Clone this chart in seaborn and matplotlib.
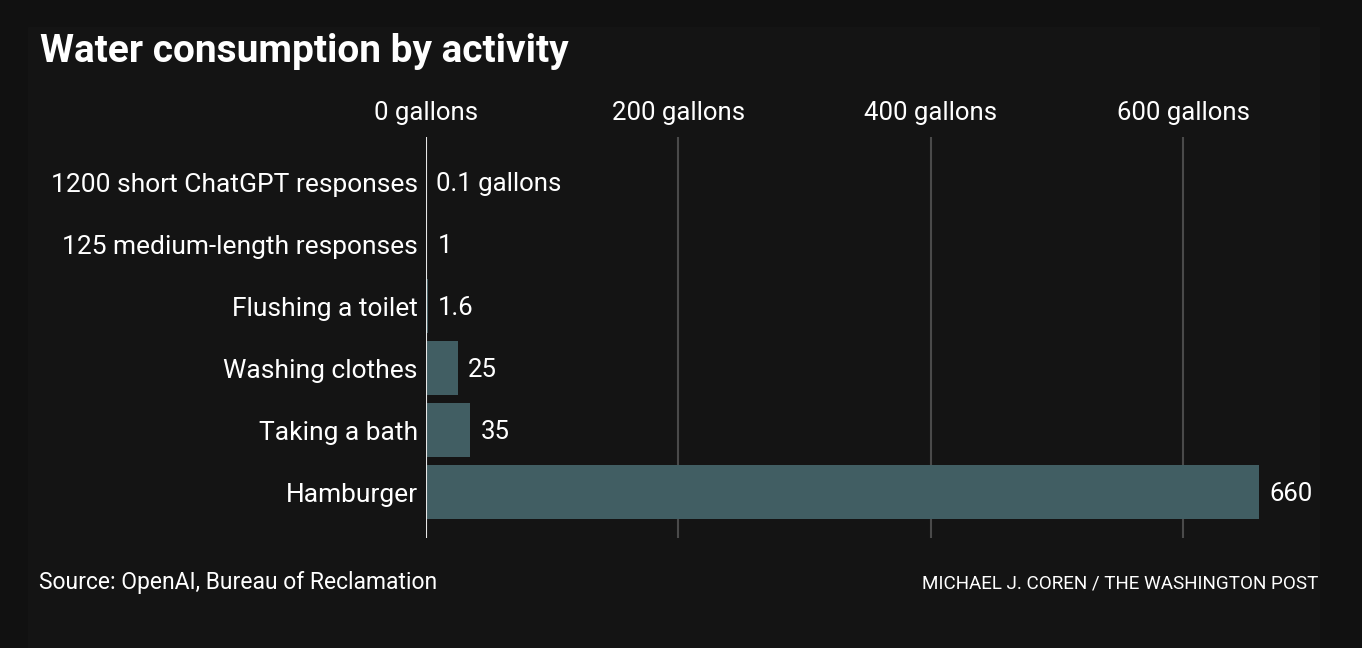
import matplotlib
matplotlib.use("Agg")
import matplotlib.pyplot as plt
import seaborn as sns
import pandas as pd

activities = ["1200 short ChatGPT responses", "125 medium-length responses",
              "Flushing a toilet", "Washing clothes", "Taking a bath", "Hamburger"]
gallons = [0.1, 1, 1.6, 25, 35, 660]
value_labels = ["0.1 gallons", "1", "1.6", "25", "35", "660"]
tick_values = [0, 200, 400, 600]
tick_labels = ["0 gallons", "200 gallons", "400 gallons", "600 gallons"]

df = pd.DataFrame({"activity": activities, "gallons": gallons})

sns.set_style("dark")
plt.rcParams["font.family"] = ["Roboto", "DejaVu Sans"]

W, H = 1362, 648
fig = plt.figure(figsize=(W / 100, H / 100), dpi=100, facecolor="#111111")
# slightly lighter panel behind the chart
fig.patches.append(plt.Rectangle((28 / W, 0), (1319 - 28) / W, 1 - 27 / H,
                                 transform=fig.transFigure, color="#141414", zorder=-5))

ax = fig.add_axes([426 / W, 1 - 538 / H, (1317 - 426) / W, (538 - 137) / H])
ax.set_zorder(2)
ax.set_facecolor("none")

sns.barplot(data=df, x="gallons", y="activity", color="#415e63", saturation=1,
            width=0.87, linewidth=0, edgecolor="none", ax=ax, zorder=2)

ax.set_xlim(0, 706)
ax.set_ylim(5.74, -0.73)

for v in tick_values[1:]:
    ax.axvline(v, color="#4a4a4a", lw=1.5, zorder=1)
ax.axvline(0, color="#e6e6e6", lw=1.5, zorder=3)

ax.xaxis.tick_top()
ax.set_xticks(tick_values)
ax.set_xticklabels(tick_labels, fontsize=18.5, color="white")
ax.tick_params(axis="x", length=0, pad=9)
ax.tick_params(axis="y", length=0, pad=6, labelsize=19, labelcolor="white")
ax.set_xlabel("")
ax.set_ylabel("")
ax.grid(False)
for s in ax.spines.values():
    s.set_visible(False)

for i, (v, lab) in enumerate(zip(gallons, value_labels)):
    ax.text(v + 8, i + 0.03, lab, va="center", ha="left", fontsize=18.5, color="white")

fig.text(40 / W, 1 - 51 / H, "Water consumption by activity", fontsize=28,
         fontweight="bold", color="white", va="center", ha="left")
fig.text(39 / W, 1 - 583 / H, "Source: OpenAI, Bureau of Reclamation", fontsize=16.5,
         color="white", va="center", ha="left")
fig.text(1318 / W, 1 - 583 / H, "MICHAEL J. COREN / THE WASHINGTON POST", fontsize=13.6,
         color="white", va="center", ha="right")

fig.savefig("out.png", dpi=100, facecolor=fig.get_facecolor())
